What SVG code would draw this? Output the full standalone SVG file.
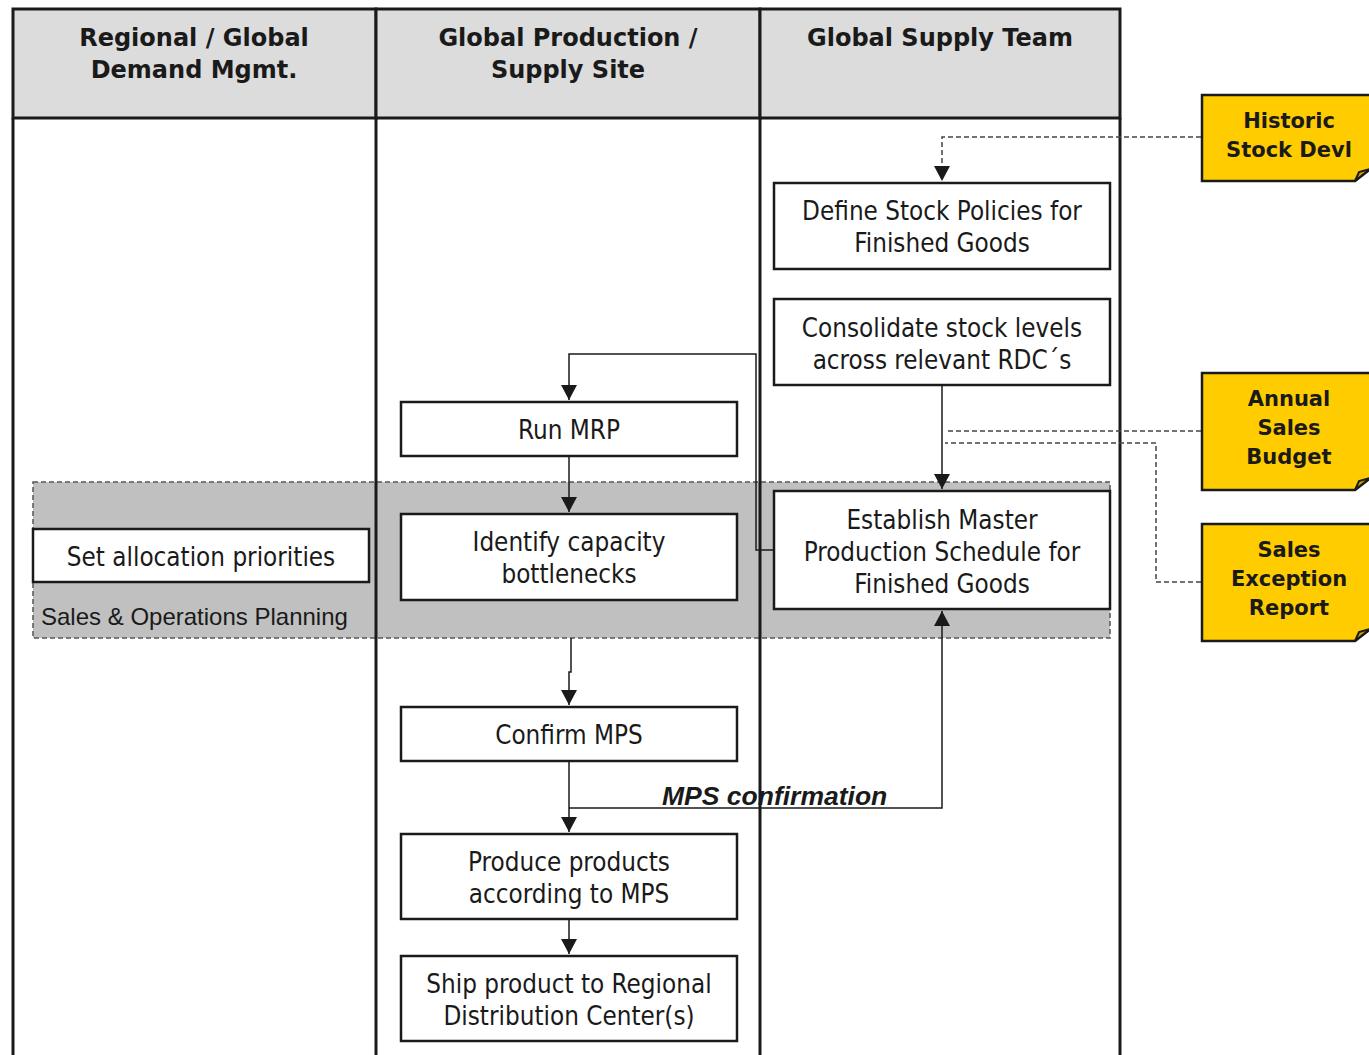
<svg xmlns="http://www.w3.org/2000/svg" width="1369" height="1055" viewBox="0 0 1369 1055">
  <style>
    .lane { fill: none; stroke: #1a1a1a; stroke-width: 3; }
    .hdr { fill: #dcdcdc; stroke: #1a1a1a; stroke-width: 3; }
    .hdrtxt { font-family: "DejaVu Sans", "Liberation Sans", sans-serif; font-weight: bold; font-size: 24px; fill: #1a1a1a; text-anchor: middle; }
    .box { fill: #ffffff; stroke: #1a1a1a; stroke-width: 2.5; }
    .txt { font-family: "DejaVu Sans Condensed", "Liberation Sans", sans-serif; font-size: 25.8px; fill: #1a1a1a; text-anchor: middle; }
    .doc { fill: #ffcc00; stroke: #1a1a1a; stroke-width: 2.5; }
    .fold { fill: #c9a000; stroke: #1a1a1a; stroke-width: 2; }
    .doctxt { font-family: "DejaVu Sans", "Liberation Sans", sans-serif; font-weight: bold; font-size: 21px; fill: #1a1a1a; text-anchor: middle; }
    .band { fill: #c0c0c0; stroke: #555555; stroke-width: 1.5; stroke-dasharray: 5 3; }
    .bandtxt { font-family: "Liberation Sans", sans-serif; font-size: 24px; fill: #1a1a1a; }
    .flow { fill: none; stroke: #1a1a1a; stroke-width: 1.5; }
    .data { fill: none; stroke: #444444; stroke-width: 1.5; stroke-dasharray: 5 3; }
    .lbl { font-family: "Liberation Sans", sans-serif; font-weight: bold; font-style: italic; font-size: 26.5px; fill: #1a1a1a; }
  </style>
  <defs>
    <marker id="arrow" viewBox="0 0 15 16" refX="15" refY="8" markerWidth="15" markerHeight="16" markerUnits="userSpaceOnUse" orient="auto">
      <path d="M0,0 L15,8 L0,16 Z" fill="#1a1a1a"/>
    </marker>
  </defs>

  <rect width="1369" height="1055" fill="#ffffff"/>

  <!-- swimlane headers -->
  <g id="lanes">
    <rect class="hdr" x="13" y="9" width="363" height="109"/>
    <rect class="hdr" x="376" y="9" width="384" height="109"/>
    <rect class="hdr" x="760" y="9" width="360" height="109"/>
    <text class="hdrtxt" x="194" y="46">Regional / Global</text>
    <text class="hdrtxt" x="194" y="78">Demand Mgmt.</text>
    <text class="hdrtxt" x="568" y="46">Global Production /</text>
    <text class="hdrtxt" x="568" y="78">Supply Site</text>
    <text class="hdrtxt" x="940" y="46">Global Supply Team</text>
  </g>

  <!-- S&OP band -->
  <g id="sop">
    <rect class="band" x="33" y="482" width="1077" height="156"/>
    <text class="bandtxt" x="41" y="625">Sales &amp; Operations Planning</text>
  </g>

  <!-- lane dividers -->
  <g id="lane-lines">
    <line class="lane" x1="13" y1="118" x2="13" y2="1055"/>
    <line class="lane" x1="376" y1="118" x2="376" y2="1055"/>
    <line class="lane" x1="760" y1="118" x2="760" y2="1055"/>
    <line class="lane" x1="1120" y1="118" x2="1120" y2="1055"/>
  </g>

  <!-- connectors -->
  <g id="connectors">
    <path class="data" d="M1201,137 H942 V181" marker-end="url(#arrow)"/>
    <path class="flow" d="M942,385 V489" marker-end="url(#arrow)"/>
    <path class="data" d="M1201,431 H945"/>
    <path class="data" d="M1201,582 H1156 V443 H945"/>
    <path class="flow" d="M774,550 H756 V354 H569 V400" marker-end="url(#arrow)"/>
    <path class="flow" d="M569,456 V512" marker-end="url(#arrow)"/>
    <path class="flow" d="M571,638 V672 H569 V705" marker-end="url(#arrow)"/>
    <path class="flow" d="M569,761 V832" marker-end="url(#arrow)"/>
    <path class="flow" d="M569,808 H942 V611" marker-end="url(#arrow)"/>
    <path class="flow" d="M569,919 V954" marker-end="url(#arrow)"/>
    <text class="lbl" x="662" y="805">MPS confirmation</text>
  </g>

  <!-- process steps -->
  <g id="define-stock-policies">
    <rect class="box" x="774" y="183" width="336" height="86"/>
    <text class="txt" x="942" y="220">Define Stock Policies for</text>
    <text class="txt" x="942" y="252">Finished Goods</text>
  </g>
  <g id="consolidate-stock">
    <rect class="box" x="774" y="299" width="336" height="86"/>
    <text class="txt" x="942" y="337">Consolidate stock levels</text>
    <text class="txt" x="942" y="369">across relevant RDC´s</text>
  </g>
  <g id="run-mrp">
    <rect class="box" x="401" y="402" width="336" height="54"/>
    <text class="txt" x="569" y="439">Run MRP</text>
  </g>
  <g id="identify-bottlenecks">
    <rect class="box" x="401" y="514" width="336" height="86"/>
    <text class="txt" x="569" y="551">Identify capacity</text>
    <text class="txt" x="569" y="583">bottlenecks</text>
  </g>
  <g id="set-allocation">
    <rect class="box" x="33" y="529" width="336" height="53"/>
    <text class="txt" x="201" y="566">Set allocation priorities</text>
  </g>
  <g id="establish-mps">
    <rect class="box" x="774" y="491" width="336" height="118"/>
    <text class="txt" x="942" y="529">Establish Master</text>
    <text class="txt" x="942" y="561">Production Schedule for</text>
    <text class="txt" x="942" y="593">Finished Goods</text>
  </g>
  <g id="confirm-mps">
    <rect class="box" x="401" y="707" width="336" height="54"/>
    <text class="txt" x="569" y="744">Confirm MPS</text>
  </g>
  <g id="produce">
    <rect class="box" x="401" y="834" width="336" height="85"/>
    <text class="txt" x="569" y="871">Produce products</text>
    <text class="txt" x="569" y="903">according to MPS</text>
  </g>
  <g id="ship">
    <rect class="box" x="401" y="956" width="336" height="85"/>
    <text class="txt" x="569" y="993">Ship product to Regional</text>
    <text class="txt" x="569" y="1025">Distribution Center(s)</text>
  </g>

  <!-- input documents -->
  <g id="historic-stock">
    <path class="doc" d="M1202,95 H1372 V168 L1355,181 H1202 Z"/>
    <path class="fold" d="M1355,181 L1359,172 L1370,169 Z"/>
    <text class="doctxt" x="1289" y="128">Historic</text>
    <text class="doctxt" x="1289" y="157">Stock Devl</text>
  </g>
  <g id="annual-budget">
    <path class="doc" d="M1202,373 H1372 V477 L1355,490 H1202 Z"/>
    <path class="fold" d="M1355,490 L1359,481 L1370,478 Z"/>
    <text class="doctxt" x="1289" y="406">Annual</text>
    <text class="doctxt" x="1289" y="435">Sales</text>
    <text class="doctxt" x="1289" y="464">Budget</text>
  </g>
  <g id="sales-exception">
    <path class="doc" d="M1202,524 H1372 V628 L1355,641 H1202 Z"/>
    <path class="fold" d="M1355,641 L1359,632 L1370,629 Z"/>
    <text class="doctxt" x="1289" y="557">Sales</text>
    <text class="doctxt" x="1289" y="586">Exception</text>
    <text class="doctxt" x="1289" y="615">Report</text>
  </g>
</svg>
